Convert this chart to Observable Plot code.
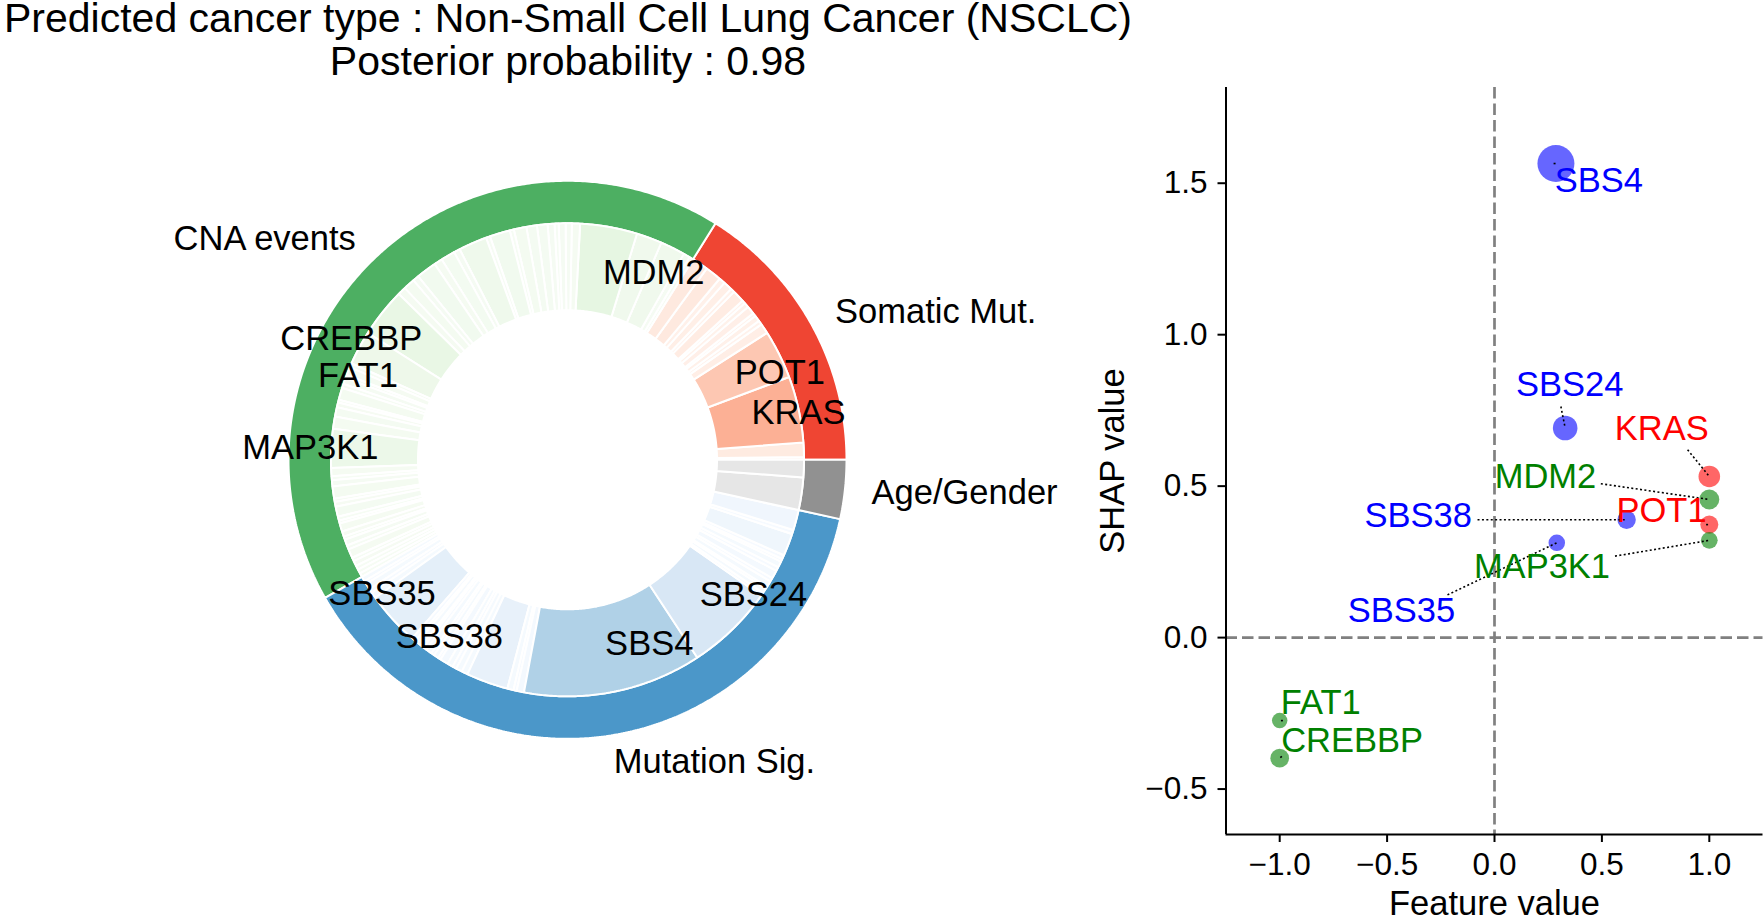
<!DOCTYPE html>
<html><head><meta charset="utf-8">
<script src="https://cdn.jsdelivr.net/npm/d3@7"></script>
<script src="https://cdn.jsdelivr.net/npm/@observablehq/plot@0.6"></script>
<style>
html,body{margin:0;padding:0;background:#fff;}
#wrap{position:relative;width:1763px;height:918px;overflow:hidden;font-family:"Liberation Sans",Arial,sans-serif;}
.title{position:absolute;left:-432px;width:2000px;text-align:center;font-size:41px;line-height:40px;color:#000;white-space:nowrap;}
#t1{top:-2px;}
#t2{top:41px;}
#donut{position:absolute;left:0;top:0;}
#scatter{position:absolute;left:1050px;top:0;}
</style></head><body>
<div id="wrap"><div id="donut"></div><div id="scatter"></div>
<div class="title" id="t1">Predicted cancer type : Non-Small Cell Lung Cancer (NSCLC)</div>
<div class="title" id="t2">Posterior probability : 0.98</div></div>
<script>
// ---------- DATA ----------
const groupNames = ["Somatic Mut.", "CNA events", "Mutation Sig.", "Age/Gender"];

// inner ring: feature importance shares (%) in drawing order, per group
const somaticFeatures = ["m1","m2","KRAS","POT1","m3","m4","m5","m6","m7","m8","m9","m10","m11","m12","m13","m14","m15"];
const somaticImportance = [0.19,0.97,4.53,3.33,0.69,0.28,0.42,0.22,0.56,0.33,0.22,0.83,0.28,0.61,0.42,1.11,1.11];

const cnaFeatures = ["c1","c2","c3","c4","MDM2",
  "c5","c6","c7","c8","c9","c10","c11","c12","c13","c14","c15","c16","c17","c18","c19","c20","c21","c22","c23",
  "CREBBP","FAT1",
  "c24","c25","c26","c27","c28","c29","c30","c31","c32","c33",
  "MAP3K1",
  "c34","c35","c36","c37","c38","c39","c40","c41","c42","c43","c44","c45","c46","c47","c48","c49","c50","c51","c52","c53"];
const cnaImportance = [0.28,0.44,1.69,1.75,3.89,
  0.56,0.42,0.47,0.28,0.47,0.72,0.72,0.86,0.28,1.39,0.28,1.94,0.42,0.97,0.56,1.39,0.42,0.78,0.56,
  3.36,2.33,
  0.28,0.56,0.22,0.42,0.28,0.83,0.19,0.33,0.64,0.83,
  2.64,
  0.56,0.28,0.42,0.83,0.22,0.33,0.69,0.28,0.19,0.56,0.36,0.22,0.42,0.28,0.61,0.25,0.36,0.28,0.28,0.28];

const sigFeatures = ["g1","g2","g3","g4","g5","SBS35",
  "g6","g7","g8","g9","g10","g11","g12","g13","g14","g15","g16","g17","g18","g19",
  "SBS38","g20","g21","g22","SBS4","SBS24",
  "g23","g24","g25","g26","g27","g28","g29","g30","g31","g32","g33","g34","g35"];
const sigImportance = [0.33,0.22,0.42,0.28,0.42,3.69,
  0.28,0.19,0.33,0.17,0.25,0.42,0.22,0.33,0.19,0.56,0.39,0.28,0.42,0.42,
  2.86,0.42,0.22,0.50,12.19,6.03,
  0.22,0.33,0.17,0.42,0.25,0.56,0.28,0.42,0.19,0.28,1.53,0.28,1.39];

const ageFeatures = ["Gender","Age"];
const ageImportance = [2.22,1.19];

// labels inside the donut (annotation positions, in units of the donut radius)
const donutLabelNames = ["MDM2","POT1","KRAS","CREBBP","FAT1","MAP3K1","SBS35","SBS38","SBS4","SBS24"];
const donutLabelX = [0.310,0.764,0.831,-0.778,-0.754,-0.925,-0.667,-0.425,0.294,0.669];
const donutLabelY = [0.671,0.314,0.167,0.434,0.302,0.044,-0.482,-0.636,-0.662,-0.487];

// scatter: feature value vs SHAP value
const scatterNames = ["SBS4","SBS24","KRAS","MDM2","POT1","MAP3K1","SBS38","SBS35","FAT1","CREBBP"];
const scatterGroup = ["Mutation Sig.","Mutation Sig.","Somatic Mut.","CNA events","Somatic Mut.","CNA events","Mutation Sig.","Mutation Sig.","CNA events","CNA events"];
const featureValue = [0.286,0.329,1.0,1.0,1.0,1.0,0.615,0.290,-1.0,-1.0];
const shapValue = [1.565,0.692,0.532,0.456,0.373,0.321,0.389,0.313,-0.274,-0.398];
// label annotation anchors (data units) and leader-line starts
const labelX = [0.280,0.100,0.560,0.001,0.568,-0.096,-0.605,-0.683,-0.995,-0.993];
const labelY = [1.471,0.797,0.651,0.493,0.381,0.197,0.365,0.051,-0.252,-0.378];
const leaderX = [0.275,0.309,0.899,0.495,0.985,0.561,-0.079,-0.219,-0.985,-0.990];
const leaderY = [1.565,0.763,0.620,0.508,0.373,0.269,0.389,0.141,-0.274,-0.392];

const xTicks = [-1.0,-0.5,0.0,0.5,1.0];
const yTicks = [-0.5,0.0,0.5,1.0,1.5];

// ---------- STYLE ----------
const FONT = "Liberation Sans, Arial, sans-serif";
const groupStyle = {
  "Somatic Mut.": {outer: d3.interpolateReds(0.6), inner: t => d3.interpolateReds(t), text: "#ff0000", dot: "#ff0000"},
  "CNA events": {outer: d3.interpolateGreens(0.6), inner: t => d3.interpolateGreens(t * 1.15), text: "#008000", dot: "#008000"},
  "Mutation Sig.": {outer: d3.interpolateBlues(0.6), inner: t => d3.interpolateBlues(t), text: "#0000ff", dot: "#0000ff"},
  "Age/Gender": {outer: "#919191", inner: t => d3.interpolateGreys(0.18), text: "#000", dot: "#000"}
};

// ---------- DONUT ----------
const groupsData = [
  {group: groupNames[0], names: somaticFeatures, values: somaticImportance},
  {group: groupNames[1], names: cnaFeatures, values: cnaImportance},
  {group: groupNames[2], names: sigFeatures, values: sigImportance},
  {group: groupNames[3], names: ageFeatures, values: ageImportance}
];
const total = d3.sum(groupsData, g => d3.sum(g.values));
let acc = 0;
const innerWedges = [], outerWedges = [];
for (const g of groupsData) {
  const gsum = d3.sum(g.values);
  const g0 = acc;
  g.values.forEach((v, i) => {
    innerWedges.push({id: "i" + innerWedges.length, name: g.names[i],
      a0: acc / total * 360, a1: (acc + v) / total * 360,
      fill: groupStyle[g.group].inner(v / gsum)});
    acc += v;
  });
  outerWedges.push({id: "o" + outerWedges.length, group: g.group,
    a0: g0 / total * 360, a1: acc / total * 360, fill: groupStyle[g.group].outer});
}
function wedgePoints(w, r0, r1) {
  const n = Math.max(2, Math.ceil((w.a1 - w.a0) / 0.5) + 1);
  const pts = [];
  for (let k = 0; k < n; k++) {
    const a = (w.a0 + (w.a1 - w.a0) * k / (n - 1)) * Math.PI / 180;
    pts.push({id: w.id, fill: w.fill, x: r1 * Math.cos(a), y: r1 * Math.sin(a)});
  }
  for (let k = n - 1; k >= 0; k--) {
    const a = (w.a0 + (w.a1 - w.a0) * k / (n - 1)) * Math.PI / 180;
    pts.push({id: w.id, fill: w.fill, x: r0 * Math.cos(a), y: r0 * Math.sin(a)});
  }
  return pts;
}
const outerPts = outerWedges.flatMap(w => wedgePoints(w, 0.8507, 1.0036));
const innerPts = innerWedges.flatMap(w => wedgePoints(w, 0.5378, 0.8507));
const groupLabels = outerWedges.map(w => {
  const a = (w.a0 + w.a1) / 2 * Math.PI / 180;
  return {text: w.group, x: 1.1 * Math.cos(a), y: 1.1 * Math.sin(a)};
});
const donutLabels = donutLabelNames.map((n, i) => ({text: n, x: donutLabelX[i], y: donutLabelY[i]}));

const W1 = 1050, H = 918, cx = 567, cy = 459.3, R = 278;
const donut = Plot.plot({
  width: W1, height: H, margin: 0,
  x: {domain: [-cx / R, (W1 - cx) / R], axis: null},
  y: {domain: [-(H - cy) / R, cy / R], axis: null},
  color: {type: "identity"},
  style: {background: "transparent", overflow: "visible", maxWidth: "none", fontFamily: FONT},
  marks: [
    Plot.line(outerPts, {x: "x", y: "y", z: "id", fill: "fill", stroke: "white", strokeWidth: 2, curve: "linear-closed", strokeLinejoin: "miter"}),
    Plot.line(innerPts, {x: "x", y: "y", z: "id", fill: "fill", stroke: "white", strokeWidth: 2, curve: "linear-closed", strokeLinejoin: "miter"}),
    Plot.text(groupLabels.filter(d => d.x >= 0), {x: "x", y: "y", text: "text", textAnchor: "start", lineAnchor: "middle", fontSize: 34.5, fill: "black"}),
    Plot.text(groupLabels.filter(d => d.x < 0), {x: "x", y: "y", text: "text", textAnchor: "end", lineAnchor: "middle", fontSize: 34.5, fill: "black"}),
    Plot.text(donutLabels, {x: "x", y: "y", text: "text", textAnchor: "middle", lineAnchor: "middle", fontSize: 34.5, fill: "black"})
  ]
});
document.getElementById("donut").appendChild(donut);

// ---------- SCATTER ----------
const points = scatterNames.map((n, i) => ({
  name: n, fx: featureValue[i], shap: shapValue[i],
  lx: labelX[i], ly: labelY[i], sx: leaderX[i], sy: leaderY[i],
  dot: groupStyle[scatterGroup[i]].dot, tcol: groupStyle[scatterGroup[i]].text
}));
const fmt = d => d3.format(".1f")(d);
const xDom = [-1.25, 1.25], yDom = [-0.65, 1.816];
const scatter = Plot.plot({
  width: 713, height: H, marginLeft: 175.5, marginRight: 0.5, marginTop: 87, marginBottom: 84,
  x: {domain: xDom, label: null},
  y: {domain: yDom, label: null},
  r: {domain: [0, 1.565], range: [0, 18.5]},
  color: {type: "identity"},
  style: {background: "transparent", overflow: "visible", maxWidth: "none", fontFamily: FONT, color: "black"},
  marks: [
    Plot.ruleX([0], {stroke: "#808080", strokeWidth: 2.7, strokeDasharray: "11.5,5"}),
    Plot.ruleY([0], {stroke: "#808080", strokeWidth: 2.7, strokeDasharray: "11.5,5"}),
    Plot.axisX({ticks: xTicks, tickFormat: fmt, tickSize: 8, tickPadding: 10, fontSize: 31.5, strokeWidth: 2, label: null}),
    Plot.axisY({ticks: yTicks, tickFormat: fmt, tickSize: 8, tickPadding: 10.5, fontSize: 31.5, strokeWidth: 2, label: null}),
    Plot.ruleX([xDom[0]], {stroke: "black", strokeWidth: 2}),
    Plot.ruleY([yDom[0]], {stroke: "black", strokeWidth: 2}),
    Plot.dot(points, {x: "fx", y: "shap", r: d => Math.abs(d.shap), fill: "dot", fillOpacity: 0.6}),
    Plot.link(points, {x1: "sx", y1: "sy", x2: "fx", y2: "shap", stroke: "black", strokeWidth: 1.6, strokeDasharray: "2,2.4"}),
    Plot.text(points, {x: "lx", y: "ly", text: "name", fill: "tcol", textAnchor: "start", lineAnchor: "bottom", fontSize: 34.5}),
    Plot.text([{t: "Feature value", x: (xDom[0] + xDom[1]) / 2, y: yDom[0]}], {x: "x", y: "y", text: "t", dy: 80.5, lineAnchor: "bottom", fontSize: 34.5, fill: "black"}),
    Plot.text([{t: "SHAP value", x: xDom[0], y: (yDom[0] + yDom[1]) / 2}], {x: "x", y: "y", text: "t", rotate: -90, dx: -113, lineAnchor: "middle", fontSize: 34.5, fill: "black"})
  ]
});
document.getElementById("scatter").appendChild(scatter);
</script>
</body></html>
